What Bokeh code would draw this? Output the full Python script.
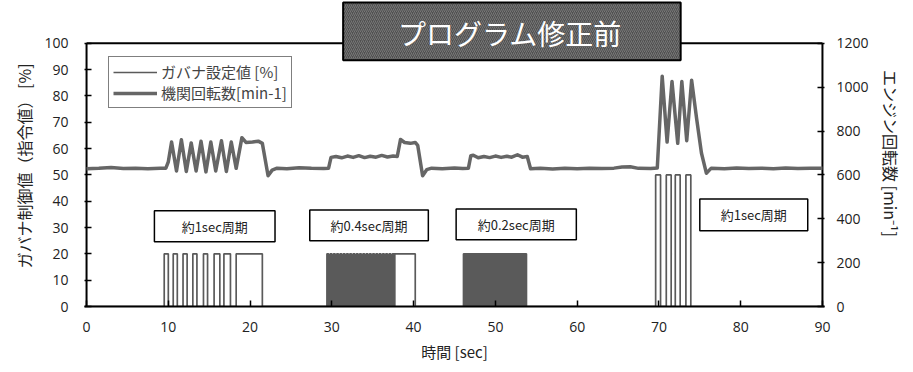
from bokeh.plotting import figure
from bokeh.models import (Range1d, LinearAxis, FixedTicker, Legend, LegendItem, Title)
from bokeh.core.properties import value
from bokeh.embed import file_html
from bokeh.resources import INLINE

JP = "Noto Sans CJK JP"
NUM = "Open Sans"

# ---------------- data ----------------
time_ticks = [0, 10, 20, 30, 40, 50, 60, 70, 80, 90]
pct_ticks = [0, 10, 20, 30, 40, 50, 60, 70, 80, 90, 100]
rpm_ticks = [0, 200, 400, 600, 800, 1000, 1200]

# engine speed [min-1]
rpm_time = [0.0, 1.5, 3.0, 4.5, 6.0, 7.5, 9.0, 9.7, 10.0, 10.4, 11.0, 11.6, 12.2, 12.8,
            13.4, 14.0, 14.6, 15.2, 15.8, 16.5, 17.1, 17.7, 18.3, 19.0, 19.5, 20.3,
            21.0, 21.5, 22.2, 22.7, 23.3, 24.5, 26.0, 27.5, 29.0, 29.6, 29.9, 30.5,
            31.2, 31.9, 32.6, 33.3, 34.0, 34.7, 35.4, 36.1, 36.8, 37.5, 38.0, 38.4,
            38.9, 39.6, 40.2, 40.5, 41.1, 41.6, 42.2, 43.5, 45.0, 46.0, 46.7, 47.0,
            47.3, 47.9, 48.6, 49.3, 50.0, 50.7, 51.4, 52.0, 52.7, 53.3, 53.9, 54.3,
            55.5, 57.0, 58.5, 60.0, 61.5, 63.0, 64.5, 65.5, 66.5, 67.5, 69.0, 69.8,
            70.4, 71.0, 71.6, 72.3, 72.8, 73.4, 74.0, 74.6, 75.2, 75.8, 76.4, 78.0,
            79.5, 81.0, 82.5, 84.0, 85.5, 87.0, 88.5, 90.0]
rpm_value = [628, 630, 634, 629, 631, 628, 630, 631, 660, 750, 618, 760, 616, 746,
             618, 754, 614, 750, 618, 756, 616, 750, 630, 770, 748, 750,
             754, 744, 596, 622, 631, 628, 633, 630, 629, 631, 680, 684,
             678, 686, 680, 688, 679, 685, 681, 689, 682, 686, 684, 762,
             748, 744, 748, 735, 596, 624, 631, 628, 632, 629, 631, 688,
             690, 678, 684, 679, 686, 680, 685, 681, 692, 681, 684, 628,
             630, 627, 631, 628, 630, 629, 631, 636, 637, 630, 629, 632,
             1050, 750, 1026, 744, 1026, 756, 1032, 860, 700, 608, 631, 628,
             632, 629, 631, 628, 632, 629, 631, 630]

# governor setting [%] : square pulses (rise time, fall time, level)
burst1_on = [9.5, 10.6, 11.8, 13.0, 14.3, 15.6, 16.8, 18.3]
burst1_off = [10.0, 11.1, 12.3, 13.5, 14.8, 16.3, 17.6, 21.5]
burst1_level = 20
burst2_on = [29.4, 29.8, 30.2, 30.6, 31.0, 31.4, 31.8, 32.2, 32.6, 33.0, 33.4,
             33.8, 34.2, 34.6, 35.0, 35.4, 35.8, 36.2, 36.6, 37.0, 37.4, 37.7]
burst2_off = [29.6, 30.0, 30.4, 30.8, 31.2, 31.6, 32.0, 32.4, 32.8, 33.2, 33.6,
              34.0, 34.4, 34.8, 35.2, 35.6, 36.0, 36.4, 36.8, 37.2, 37.6, 40.2]
burst2_level = 20
burst3_on = [46.1, 46.3, 46.5, 46.7, 46.9, 47.1, 47.3, 47.5, 47.7, 47.9, 48.1, 48.3,
             48.5, 48.7, 48.9, 49.1, 49.3, 49.5, 49.7, 49.9, 50.1, 50.3, 50.5, 50.7,
             50.9, 51.1, 51.3, 51.5, 51.7, 51.9, 52.1, 52.3, 52.5, 52.7, 52.9, 53.1,
             53.3, 53.5, 53.7]
burst3_off = [46.2, 46.4, 46.6, 46.8, 47.0, 47.2, 47.4, 47.6, 47.8, 48.0, 48.2, 48.4,
              48.6, 48.8, 49.0, 49.2, 49.4, 49.6, 49.8, 50.0, 50.2, 50.4, 50.6, 50.8,
              51.0, 51.2, 51.4, 51.6, 51.8, 52.0, 52.2, 52.4, 52.6, 52.8, 53.0, 53.2,
              53.4, 53.6, 53.8]
burst3_level = 20
burst4_on = [69.6, 70.9, 72.0, 73.3]
burst4_off = [70.2, 71.5, 72.6, 73.9]
burst4_level = 50

title_text = "プログラム修正前"
legend_labels = ["ガバナ設定値 [%]", "機関回転数[min-1]"]
note_texts = ["約1sec周期", "約0.4sec周期", "約0.2sec周期", "約1sec周期"]
note_left = [8.3, 27.3, 45.2, 75.0]
note_right = [23.05, 41.8, 59.9, 88.2]
note_bottom = [24.6, 25.0, 25.4, 28.8]
note_top = [36.4, 36.7, 37.1, 40.9]
x_label = "時間 [sec]"
y_label = "ガバナ制御値（指令値） [%]"
y2_label = "エンジン回転数 [min⁻¹]"

# build square-wave path from pulse lists
pulse_x = [0.0]
pulse_y = [0.0]
for ons, offs, lev in [(burst1_on, burst1_off, burst1_level),
                       (burst2_on, burst2_off, burst2_level),
                       (burst3_on, burst3_off, burst3_level),
                       (burst4_on, burst4_off, burst4_level)]:
    for a, b in zip(ons, offs):
        pulse_x += [a, a, b, b]
        pulse_y += [0, lev, lev, 0]
pulse_x.append(90.0)
pulse_y.append(0.0)

# ---------------- figure ----------------
W, H = 905, 364
FRAME_L, FRAME_W = 84, 741
FRAME_H = 307
YTOP = FRAME_H / 2.64          # value at top of frame on % scale
p = figure(width=W, height=H, output_backend="svg", toolbar_location=None,
           x_range=Range1d(-0.25, 90.25), y_range=Range1d(0, YTOP),
           min_border_left=FRAME_L, min_border_right=W - FRAME_L - FRAME_W,
           min_border_top=0, min_border_bottom=H - FRAME_H)
p.extra_y_ranges = {"rpm": Range1d(0, YTOP * 12)}
p.outline_line_color = None
p.xgrid.visible = False
p.ygrid.visible = False
p.background_fill_color = "white"
p.border_fill_color = "white"

def style_axis(ax, ticks, standoff):
    ax.ticker = FixedTicker(ticks=ticks)
    ax.major_tick_in = 7
    ax.major_tick_out = 0
    ax.minor_tick_line_color = None
    ax.major_tick_line_color = "black"
    ax.major_tick_line_width = 1.5
    ax.major_label_text_font = NUM
    ax.major_label_text_font_size = "14px"
    ax.major_label_text_color = "#222222"
    ax.major_label_standoff = standoff

xa = p.xaxis[0]
style_axis(xa, time_ticks, 15)
xa.major_tick_in = 6
xa.axis_line_color = "black"
xa.axis_line_width = 2
xa.axis_label = x_label
xa.axis_label_text_font = JP
xa.axis_label_text_font_size = "15px"
xa.axis_label_text_font_style = "normal"
xa.axis_label_text_color = "#222222"
xa.axis_label_standoff = 6

ya = p.yaxis[0]
style_axis(ya, pct_ticks, 16)
ya.axis_line_color = None

ra = LinearAxis(y_range_name="rpm")
style_axis(ra, rpm_ticks, 12)
ra.axis_line_color = None
ra.axis_label = y2_label
ra.axis_label_text_font = JP
ra.axis_label_text_font_size = "16px"
ra.axis_label_text_font_style = "normal"
ra.axis_label_text_color = "#222222"
ra.axis_label_standoff = 7
p.add_layout(ra, "right")

# frame border (0..90 x 0..100)
p.segment(x0=[0, 90, 0], y0=[0, 0, 100], x1=[0, 90, 90], y1=[100, 100, 100],
          line_color="black", line_width=2)

# data
pulse_r = p.line(pulse_x, pulse_y, line_color="#5a5a5a", line_width=1.7)
rpm_r = p.line(rpm_time, rpm_value, y_range_name="rpm", line_color="#666666",
               line_width=3.5, line_join="round")

# notes
p.quad(left=note_left, right=note_right, bottom=note_bottom, top=note_top,
       fill_color="white", line_color="black", line_width=1.5)
p.text(x=[(a + b) / 2 for a, b in zip(note_left, note_right)],
       y=[(a + b) / 2 for a, b in zip(note_bottom, note_top)],
       text=note_texts, text_font=value(JP), text_font_size="13px",
       text_align="center", text_baseline="middle", text_color="#222222")

# title box
p.quad(left=[31.38], right=[72.66], bottom=[93.56], top=[115.53],
       fill_color="#505050", line_color="black", line_width=2,
       hatch_pattern="/", hatch_color="#777777", hatch_scale=4, hatch_weight=1)
p.text(x=[51.8], y=[103.8], text=[title_text], text_font=value(JP),
       text_font_size="28px", text_align="center", text_baseline="middle",
       text_color="white")

legend = Legend(items=[LegendItem(label=legend_labels[0], renderers=[pulse_r]),
                       LegendItem(label=legend_labels[1], renderers=[rpm_r])],
                location=(24, 198), label_text_font=JP, label_text_font_size="15px",
                glyph_width=44, glyph_height=20, label_height=20, spacing=0,
                padding=4, label_standoff=4, margin=0,
                border_line_color="black", border_line_width=1.5,
                background_fill_color="white", background_fill_alpha=1)
p.add_layout(legend)

lt = Title(text=y_label, align="left", offset=38, text_font=JP,
           text_font_size="16px", text_font_style="normal", text_color="#222222",
           standoff=12)
p.add_layout(lt, "left")

open("out.html", "w").write(file_html(p, INLINE))
